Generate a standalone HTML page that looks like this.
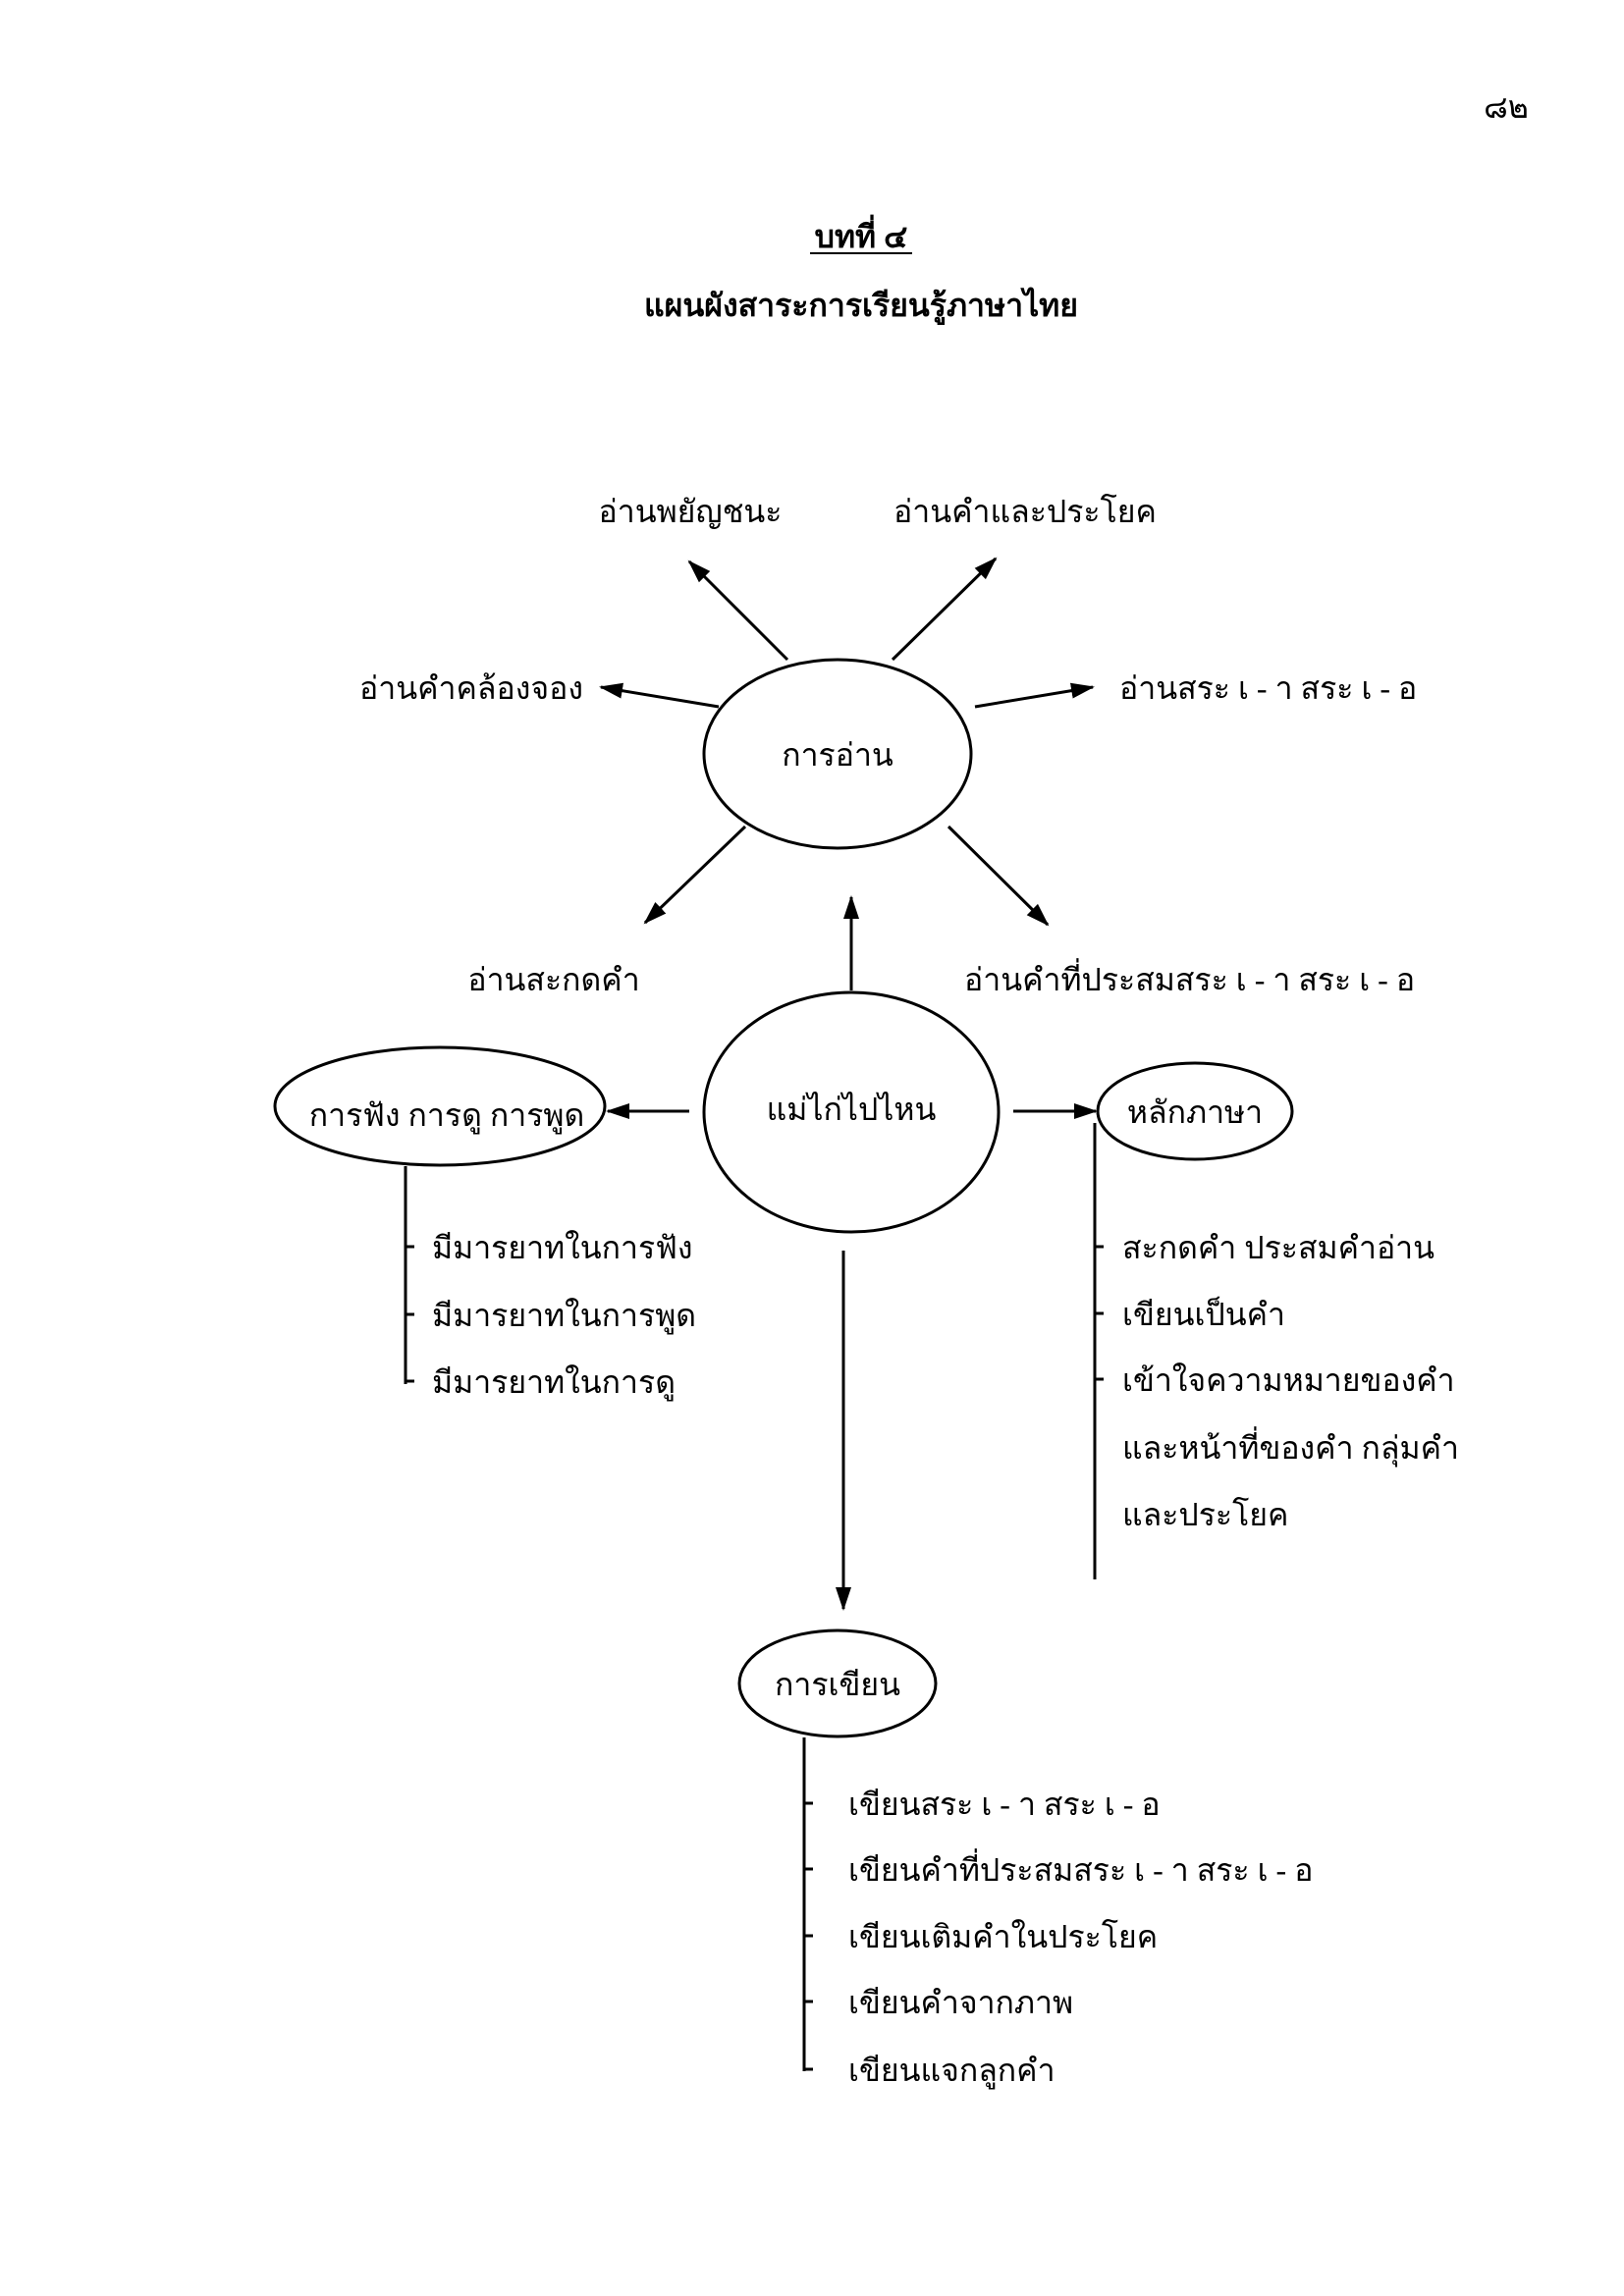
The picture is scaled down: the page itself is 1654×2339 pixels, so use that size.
<!DOCTYPE html>
<html><head><meta charset="utf-8"><style>
html,body{margin:0;padding:0;background:#fff}
svg{display:block}
text{font-family:"Liberation Serif","Noto Serif CJK SC",serif;font-size:32px;fill:#000}
</style></head><body>
<svg width="1654" height="2339" viewBox="0 0 1654 2339" xmlns="http://www.w3.org/2000/svg">
<defs>
<marker id="b" markerWidth="24" markerHeight="24" refX="22" refY="12" orient="auto" markerUnits="userSpaceOnUse" viewBox="0 0 24 24"><path d="M0,4 L24,12 L0,20 z" fill="#000"/></marker></defs>
<g transform="translate(-3,-8)">
<text x="1537" y="128" text-anchor="middle">๘๒</text>
<text x="880" y="260" text-anchor="middle" font-weight="bold">บทที่ ๔</text>
<line x1="828" y1="266" x2="932" y2="266" stroke="#000" stroke-width="2"/>
<text x="880" y="330" text-anchor="middle" font-weight="bold">แผนผังสาระการเรียนรู้ภาษาไทย</text>
<g fill="none" stroke="#000" stroke-width="3">
<ellipse cx="856" cy="776" rx="136" ry="96"/>
<ellipse cx="870" cy="1141" rx="150" ry="122"/>
<ellipse cx="451" cy="1135" rx="168" ry="60"/>
<ellipse cx="1220" cy="1140" rx="99" ry="49"/>
<ellipse cx="856" cy="1723" rx="100" ry="54"/>
<g marker-end="url(#b)">
<line x1="805" y1="680" x2="705" y2="580"/>
<line x1="912" y1="680" x2="1017" y2="577"/>
<line x1="735" y1="728" x2="615" y2="708"/>
<line x1="996" y1="728" x2="1116" y2="708"/>
<line x1="762" y1="850" x2="660" y2="948"/>
<line x1="969" y1="850" x2="1070" y2="950"/>
<line x1="870" y1="1017" x2="870" y2="922"/>
<line x1="705" y1="1140" x2="622" y2="1140"/>
<line x1="1035" y1="1140" x2="1119" y2="1140"/>
<line x1="862" y1="1282" x2="862" y2="1647"/>
</g>
<path d="M416,1196 V1418 M416,1278 h9 M416,1347 h9 M416,1415 h9"/>
<path d="M1118,1152 V1617 M1118,1278 h9 M1118,1346 h9 M1118,1413 h9"/>
<path d="M822,1778 V2118 M822,1845 h9 M822,1912 h9 M822,1980 h9 M822,2047 h9 M822,2116 h9"/>
</g>
<text x="706" y="540" text-anchor="middle">อ่านพยัญชนะ</text>
<text x="1047" y="540" text-anchor="middle">อ่านคำและประโยค</text>
<text x="483" y="720" text-anchor="middle">อ่านคำคล้องจอง</text>
<text x="1143" y="720">อ่านสระ เ - า สระ เ - อ</text>
<text x="856" y="788" text-anchor="middle">การอ่าน</text>
<text x="567" y="1017" text-anchor="middle">อ่านสะกดคำ</text>
<text x="985" y="1017">อ่านคำที่ประสมสระ เ - า สระ เ - อ</text>
<text x="870" y="1149" text-anchor="middle">แม่ไก่ไปไหน</text>
<text x="458" y="1155" text-anchor="middle">การฟัง การดู การพูด</text>
<text x="1220" y="1152" text-anchor="middle">หลักภาษา</text>
<text x="443" y="1290">มีมารยาทในการฟัง</text>
<text x="443" y="1359">มีมารยาทในการพูด</text>
<text x="443" y="1427">มีมารยาทในการดู</text>
<text x="1146" y="1290">สะกดคำ ประสมคำอ่าน</text>
<text x="1146" y="1358">เขียนเป็นคำ</text>
<text x="1146" y="1425">เข้าใจความหมายของคำ</text>
<text x="1146" y="1494">และหน้าที่ของคำ กลุ่มคำ</text>
<text x="1146" y="1562">และประโยค</text>
<text x="856" y="1735" text-anchor="middle">การเขียน</text>
<text x="867" y="1857">เขียนสระ เ - า สระ เ - อ</text>
<text x="867" y="1924">เขียนคำที่ประสมสระ เ - า สระ เ - อ</text>
<text x="867" y="1992">เขียนเติมคำในประโยค</text>
<text x="867" y="2059">เขียนคำจากภาพ</text>
<text x="867" y="2128">เขียนแจกลูกคำ</text>
</g>
</svg>
</body></html>
